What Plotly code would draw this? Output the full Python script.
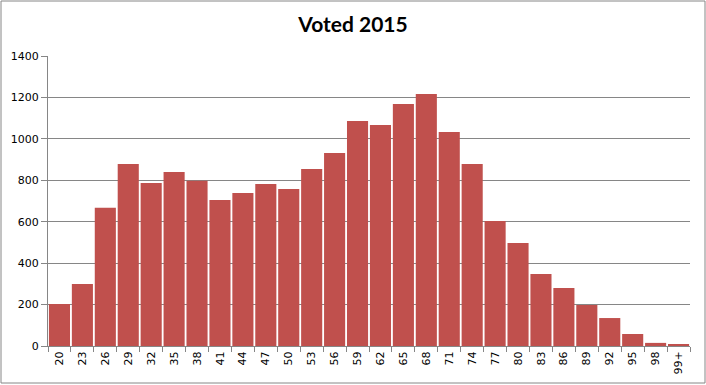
import plotly.graph_objects as go

categories = ["20", "23", "26", "29", "32", "35", "38", "41", "44", "47", "50", "53", "56", "59",
              "62", "65", "68", "71", "74", "77", "80", "83", "86", "89", "92", "95", "98", "99+"]
voted = [203, 299, 667, 879, 787, 840, 798, 705, 739, 782, 758, 854, 932, 1086,
         1067, 1168, 1217, 1033, 879, 603, 497, 348, 280, 198, 135, 58, 15, 5]
y_ticks = [0, 200, 400, 600, 800, 1000, 1200, 1400]

fig = go.Figure(go.Bar(x=categories, y=voted, marker=dict(color="#C0504D", line=dict(width=0))))

W, H = 706, 385
L, R, T, B = 48, 16, 56, 39
pw, ph = W - L - R, H - T - B

fig.update_layout(
    width=W, height=H,
    margin=dict(l=L, r=R, t=T, b=B, pad=0, autoexpand=False),
    paper_bgcolor="white", plot_bgcolor="white",
    bargap=0.08,
    showlegend=False,
    title=dict(text="<b>Voted 2015</b>", x=0.5, xanchor="center", y=1 - 25 / H, yanchor="middle",
               font=dict(family="Lato", size=21, color="black")),
    font=dict(family="DejaVu Sans", size=11, color="black"),
    shapes=[dict(type="rect", xref="paper", yref="paper",
                 x0=(1 - L) / pw, x1=(705 - L) / pw,
                 y0=(H - B - 383) / ph, y1=(H - B - 1) / ph,
                 line=dict(color="#868686", width=1), fillcolor="rgba(0,0,0,0)", layer="below")],
)
fig.update_xaxes(type="category", tickangle=-90, showgrid=False, showline=True, linecolor="#868686",
                 ticks="outside", tickson="boundaries", ticklen=5, tickcolor="#868686",
                 automargin=False, tickfont=dict(family="DejaVu Sans", size=11))
fig.update_yaxes(range=[0, 1400], tickvals=y_ticks, showgrid=True, gridcolor="#868686", gridwidth=1,
                 showline=True, linecolor="#868686", ticks="outside", ticklen=6, tickcolor="#868686",
                 zeroline=False, automargin=False, tickfont=dict(family="DejaVu Sans", size=11))

fig.write_html("out.html", config={"displayModeBar": False},
               post_script="document.body.style.margin='0';")
